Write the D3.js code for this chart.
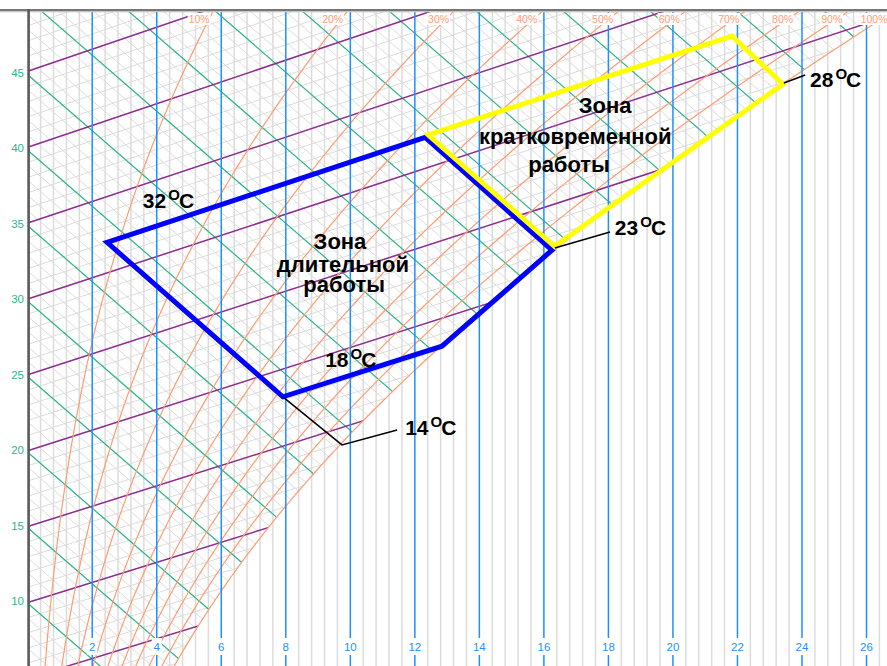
<!DOCTYPE html>
<html>
<head>
<meta charset="utf-8">
<script src="https://cdn.jsdelivr.net/npm/d3@7"></script>
<style>
  body { margin: 0; background: #fff; }
  svg { display: block; }
</style>
</head>
<body>
<script>
// --- chart values -------------------------------------------------------
// moisture content ticks (g/kg dry air)
var dTicks = [2, 4, 6, 8, 10, 12, 14, 16, 18, 20, 22, 24, 26];
// enthalpy labels on the left axis (kJ/kg)
var enthalpyLabels = [10, 15, 20, 25, 30, 35, 40, 45];
// coloured enthalpy lines and isotherms
var enthalpyLines = [5, 10, 15, 20, 25, 30, 35, 40, 45, 50, 55, 60, 65, 70, 75, 80, 85, 90, 95, 100];
var isotherms = [0, 5, 10, 15, 20, 25, 30, 35, 40, 45];
// relative humidity curves (%)
var rhLevels = [10, 20, 30, 40, 50, 60, 70, 80, 90, 100];

// zones as [d g/kg, t °C]
var longZone = [[2.46, 32.0], [12.32, 32.0], [16.25, 22.1], [12.84, 18.2], [7.91, 18.2]];
var shortZone = [[12.41, 32.1], [21.83, 32.0], [23.41, 27.9], [16.33, 22.3]];

// leader lines and labels as [d g/kg, chart Y]
var leader14 = [[7.91, 23.66], [9.74, 20.48], [11.45, 21.47]];
var leader23 = [[16.34, 33.52], [18.05, 34.58]];
var leader28 = [[23.44, 44.45], [24.10, 44.98]];

var tempLabelText = ["32", "18", "14", "23", "28"];
var tempLabelPos = [[3.57, 36.17], [9.22, 25.64], [11.70, 21.14], [18.20, 34.38], [24.25, 44.19]];

var longZoneText = ["Зона", "длительной", "работы"];
var longZonePos = [[9.68, 33.46], [9.77, 31.93], [9.81, 30.61]];
var shortZoneText = ["Зона", "кратковременной", "работы"];
var shortZonePos = [[17.90, 42.46], [16.97, 40.40], [16.78, 38.56]];

// --- set up ---------------------------------------------------------------
var W = 887, H = 666, plotTop = 12;
var P = 103.5;   // pressure used for the saturation curve, kPa
var C = 1.855;   // skew of the i-d grid

var x = d3.scaleLinear().domain([0, 26]).range([27.7, 866.5]);
var y = d3.scaleLinear().domain([0, 45]).range([754.2, 74.7]);

function ps(t) { return 0.6112 * Math.exp(17.62 * t / (243.12 + t)); }
function dOf(t, rh) { var p = rh / 100 * ps(t); return 622 * p / (P - p); }
function Yof(t, d) { return 1.005 * t + d * (2.501 + 0.00186 * t) - C * d; }
function pt(d, t) { return [x(d), y(Yof(t, d))]; }

var colBlue = "#1e8fff", colGreen = "#2fb58c", colPurple = "#8e2c92",
    colOrange = "#ff9c72", colGrid = "#dcdcdc";

var svg = d3.select("body").append("svg")
    .attr("width", W)
    .attr("height", H)
    .style("font-family", "'Liberation Sans', Arial, sans-serif");

var defs = svg.append("defs");
defs.append("clipPath").attr("id", "plot")
    .append("rect")
    .attr("x", x(0)).attr("y", plotTop)
    .attr("width", W).attr("height", H);

// area left of the saturation curve
var satPts = d3.range(-10, 40, 0.25).map(t => pt(dOf(t, 100), t));
satPts.push([x(-1), y(80)], [x(-1), y(-30)]);
defs.append("clipPath").attr("id", "unsat")
    .append("path")
    .attr("d", "M" + satPts.join("L") + "Z");

var plot = svg.append("g").attr("clip-path", "url(#plot)");

// fine vertical grid
var fine = d3.range(0.4, 27.3, 0.4).filter(v => Math.abs(v / 2 - Math.round(v / 2)) > 0.01);
plot.selectAll(".fine")
    .data(fine)
    .enter()
    .append("line")
    .attr("x1", d => x(d)).attr("x2", d => x(d))
    .attr("y1", plotTop).attr("y2", H)
    .style("stroke", colGrid)
    .style("stroke-width", 1.5);

var grid = plot.append("g").attr("clip-path", "url(#unsat)");

// fine diagonal grid: isotherms and enthalpy every 1 unit
d3.range(-10, 51, 1).forEach(function(t) {
    grid.append("line")
        .attr("x1", x(0)).attr("y1", y(Yof(t, 0)))
        .attr("x2", x(30)).attr("y2", y(Yof(t, 30)))
        .style("stroke", colGrid).style("stroke-width", 1);
});
d3.range(-10, 111, 1).forEach(function(i) {
    grid.append("line")
        .attr("x1", x(0)).attr("y1", y(i))
        .attr("x2", x(30)).attr("y2", y(i - C * 30))
        .style("stroke", colGrid).style("stroke-width", 1);
});

// enthalpy lines
grid.selectAll(".ent")
    .data(enthalpyLines)
    .enter()
    .append("line")
    .attr("x1", x(0)).attr("y1", i => y(i))
    .attr("x2", x(30)).attr("y2", i => y(i - C * 30))
    .style("stroke", colGreen)
    .style("stroke-width", 1.2);

// isotherms
grid.selectAll(".iso")
    .data(isotherms)
    .enter()
    .append("line")
    .attr("x1", x(0)).attr("y1", t => y(Yof(t, 0)))
    .attr("x2", x(30)).attr("y2", t => y(Yof(t, 30)))
    .style("stroke", colPurple)
    .style("stroke-width", 1.5);

// relative humidity curves
var rhLine = d3.line();
var Ytop = y.invert(plotTop);
plot.selectAll(".rh")
    .data(rhLevels)
    .enter()
    .append("path")
    .attr("d", function(rh) {
        var pts = [];
        for (var t = -10; t <= 60; t += 0.2) {
            var d = dOf(t, rh);
            pts.push(pt(d, t));
            if (Yof(t, d) > Ytop + 1) break;
        }
        return rhLine(pts);
    })
    .style("fill", "none")
    .style("stroke", colOrange)
    .style("stroke-width", 1.2);

// blue moisture lines
plot.selectAll(".dline")
    .data(dTicks)
    .enter()
    .append("line")
    .attr("x1", d => x(d)).attr("x2", d => x(d))
    .attr("y1", plotTop).attr("y2", H)
    .style("stroke", colBlue)
    .style("stroke-width", 1.5);

// RH labels at the top
function topX(rh) {
    var target = y.invert(14), lo = -10, hi = 60;
    for (var k = 0; k < 60; k++) {
        var m = (lo + hi) / 2;
        if (Yof(m, dOf(m, rh)) < target) lo = m; else hi = m;
    }
    return x(dOf(lo, rh));
}
rhLevels.forEach(function(rh) {
    var g = svg.append("g");
    var txt = g.append("text")
        .attr("x", topX(rh) - 2)
        .attr("y", 23)
        .attr("text-anchor", "end")
        .style("font-size", "10.5px")
        .style("fill", colOrange)
        .text(rh + "%");
    var bb = txt.node().getBBox();
    g.insert("rect", "text")
        .attr("x", bb.x - 1).attr("y", 13)
        .attr("width", bb.width + 2).attr("height", bb.y + bb.height - 13)
        .style("fill", "#fff");
});

// bottom moisture labels
dTicks.forEach(function(d) {
    var g = svg.append("g");
    g.append("rect")
        .attr("x", x(d) - (d < 10 ? 5 : 9)).attr("y", H - 28)
        .attr("width", d < 10 ? 10 : 18).attr("height", 17)
        .style("fill", "#fff");
    g.append("text")
        .attr("x", x(d)).attr("y", H - 15)
        .attr("text-anchor", "middle")
        .style("font-size", "11.5px")
        .style("fill", colBlue)
        .text(d);
});

// left enthalpy labels
svg.selectAll(".elab")
    .data(enthalpyLabels)
    .enter()
    .append("text")
    .attr("x", 24)
    .attr("y", i => y(i) + 2)
    .attr("text-anchor", "end")
    .style("font-size", "11.5px")
    .style("fill", colGreen)
    .text(i => i);

// frame
svg.append("rect").attr("x", 0).attr("y", 9).attr("width", W).attr("height", 2.4).style("fill", "#777");
svg.append("line").attr("x1", 0).attr("x2", W).attr("y1", 11.8).attr("y2", 11.8)
    .style("stroke", "#c4c4c4").style("stroke-width", 1);
svg.append("line").attr("x1", 28.6).attr("x2", 28.6).attr("y1", 9).attr("y2", H)
    .style("stroke", "#5a5a5a").style("stroke-width", 2.6);

// zones
var zoneLine = d3.line().x(p => pt(p[0], p[1])[0]).y(p => pt(p[0], p[1])[1]).curve(d3.curveLinearClosed);
svg.append("path")
    .attr("d", zoneLine(longZone))
    .style("fill", "none").style("stroke", "#0000ff")
    .style("stroke-width", 5).style("stroke-linejoin", "miter");
svg.append("path")
    .attr("d", zoneLine(shortZone))
    .style("fill", "none").style("stroke", "#ffff00")
    .style("stroke-width", 5).style("stroke-linejoin", "miter");

// leaders
var lead = d3.line().x(p => x(p[0])).y(p => y(p[1]));
[leader14, leader23, leader28].forEach(function(l) {
    svg.append("path").attr("d", lead(l))
        .style("fill", "none").style("stroke", "#000").style("stroke-width", 1.5);
});

// temperature labels
tempLabelText.forEach(function(s, k) {
    var t = svg.append("text")
        .attr("x", x(tempLabelPos[k][0]))
        .attr("y", y(tempLabelPos[k][1]))
        .style("font-size", "21px")
        .style("font-weight", "bold")
        .text(s);
    t.append("tspan").attr("dx", 2).attr("dy", -8).style("font-size", "15px").text("O");
    t.append("tspan").attr("dx", -1).attr("dy", 8).text("C");
});

// zone titles
function zoneText(lines, pos) {
    lines.forEach(function(s, k) {
        svg.append("text")
            .attr("x", x(pos[k][0]))
            .attr("y", y(pos[k][1]))
            .attr("text-anchor", "middle")
            .style("font-size", "22px")
            .style("font-weight", "bold")
            .text(s);
    });
}
zoneText(longZoneText, longZonePos);
zoneText(shortZoneText, shortZonePos);
</script>
</body>
</html>
